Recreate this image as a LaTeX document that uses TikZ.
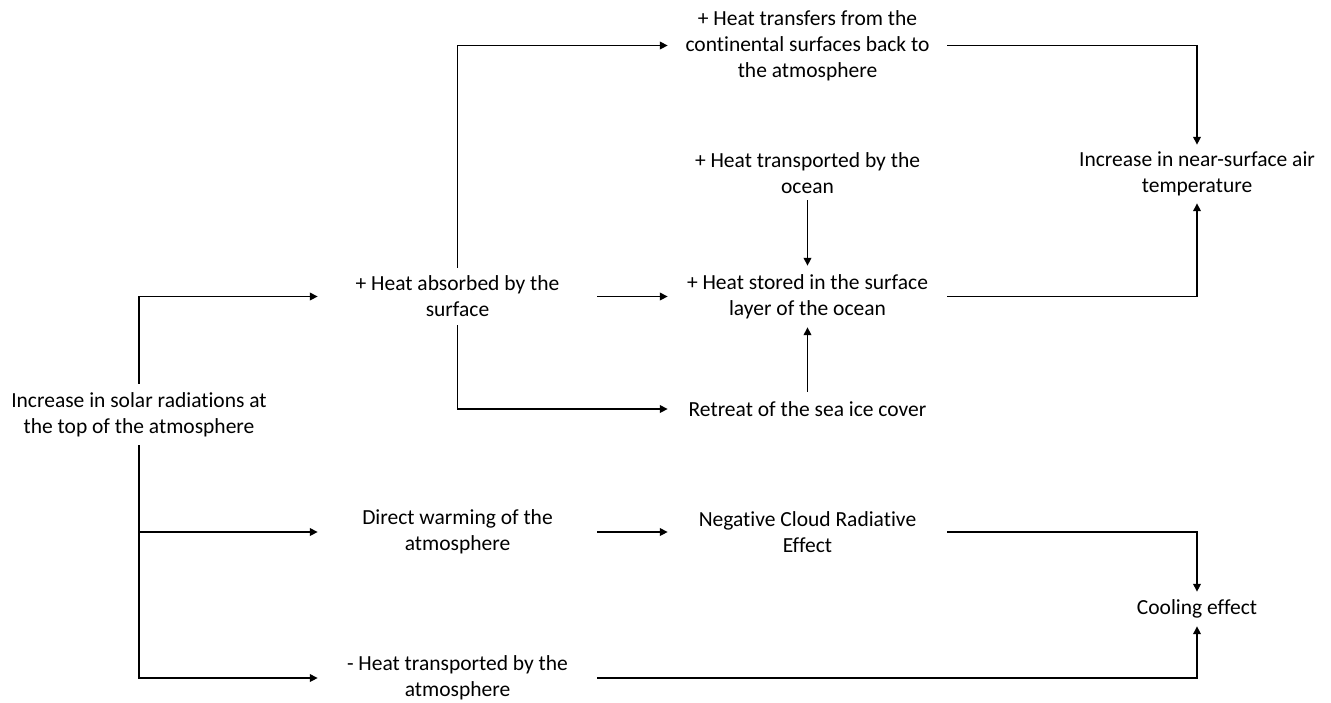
\documentclass[tikz,border=0pt]{standalone}
\usepackage{fontspec}
\setmainfont{Carlito}[Ligatures={NoCommon,NoContextual}]
\usetikzlibrary{arrows.meta}
\begin{document}
\begin{tikzpicture}[x=1pt,y=-1pt,
  lbl/.style={inner sep=0pt,minimum width=279pt,align=center,font=\fontsize{21.5pt}{26pt}\selectfont},
  conn/.style={line width=1.8pt,-{Triangle[length=8pt,width=7.5pt]}},
  plain/.style={line width=1.8pt}]
\useasboundingbox (0,0) rectangle (1331,702);
\node[lbl,minimum width=300pt,minimum height=61pt] (solar) at (139,414.5) {Increase in solar radiations at\\the top of the atmosphere};
\node[lbl,minimum height=57pt] (absorbed) at (457.5,296.5) {+ Heat absorbed by the\\surface};
\node[lbl] (transfers) at (807.5,45.5) {+ Heat transfers from the\\continental surfaces back to\\the atmosphere};
\node[lbl,minimum height=54pt] (ocean) at (807.5,173) {+ Heat transported by the\\ocean};
\node[lbl,minimum height=61pt] (stored) at (807.5,296.5) {+ Heat stored in the surface\\layer of the ocean};
\node[lbl,minimum height=34pt] (retreat) at (807.5,409) {Retreat of the sea ice cover};
\node[lbl,minimum height=58pt] (near) at (1197,174) {Increase in near-surface air\\temperature};
\node[lbl] (direct) at (457.5,532) {Direct warming of the\\atmosphere};
\node[lbl] (cloud) at (807.5,532) {Negative Cloud Radiative\\Effect};
\node[lbl,minimum height=34pt] (cooling) at (1197,609) {Cooling effect};
\node[lbl] (hatm) at (457.5,678) {- Heat transported by the\\atmosphere};
\coordinate (j) at (139,532);
% solar branches
\draw[conn] (solar.north) |- (absorbed.west);
\draw[plain] (solar.south) -- (j);
\draw[conn] (j) -- (direct.west);
\draw[conn] (j) |- (hatm.west);
% absorbed branches
\draw[conn] (absorbed.north) |- (transfers.west);
\draw[conn] (absorbed.east) -- (stored.west);
\draw[conn] (absorbed.south) |- (retreat.west);
% ocean
\draw[conn] (ocean.south) -- (stored.north);
\draw[conn] (retreat.north) -- (stored.south);
% to near-surface
\draw[conn] (transfers.east) -| (near.north);
\draw[conn] (stored.east) -| (near.south);
% cooling
\draw[conn] (direct.east) -- (cloud.west);
\draw[conn] (cloud.east) -| (cooling.north);
\draw[conn] (hatm.east) -| (cooling.south);
\end{tikzpicture}
\end{document}
